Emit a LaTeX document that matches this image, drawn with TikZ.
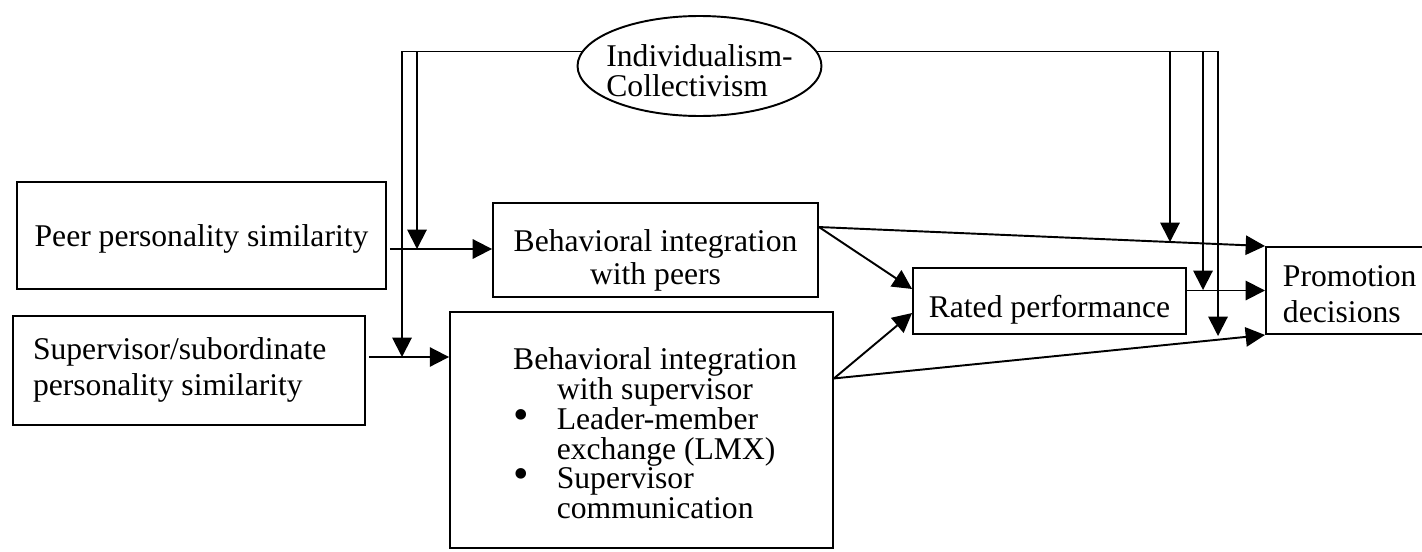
\documentclass[tikz,border=0pt]{standalone}
\usepackage{fontspec}
\setmainfont{Liberation Serif}
\usetikzlibrary{shapes.geometric,arrows.meta}

\newcommand{\bigbullet}{\scalebox{1.4}{\textbullet}}

\begin{document}
\begin{tikzpicture}[x=0.02cm,y=-0.02cm,line width=1.1pt,
  box/.style={draw, rectangle, inner sep=0pt, font=\fontsize{18}{19}\selectfont},
  arr/.style={-{Triangle[length=11pt,width=11pt]}}]

\useasboundingbox (0,0) rectangle (1422,551);

% Moderator
\node[draw, ellipse, minimum width=4.88cm, minimum height=2cm, inner sep=0pt, text height=17pt, text depth=17pt,
  font=\fontsize{18}{17}\selectfont] (ic) at (699.5,66)
  {\makebox[96pt][c]{\begin{tabular}[t]{@{}l@{}}Individualism-\\Collectivism\end{tabular}}};

% Similarity boxes
\node[box, minimum width=7.38cm, minimum height=2.14cm, text height=16pt, text depth=4pt] (peer) at (201.5,235.5) {Peer personality similarity};
\node[box, minimum width=7.04cm, minimum height=2.18cm, text height=14pt, text depth=27pt,
  font=\fontsize{18}{20.5}\selectfont] (supsub) at (189,370.5)
  {\makebox[6.24cm][l]{\begin{tabular}[t]{@{}l@{}}Supervisor/subordinate\\personality similarity\end{tabular}}};

% Integration boxes
\node[box, minimum width=6.5cm, minimum height=1.88cm, text height=19.4pt, text depth=18.2pt,
  font=\fontsize{18}{18.8}\selectfont] (peers) at (655.5,250)
  {\begin{tabular}[t]{@{}c@{}}Behavioral integration\\with peers\end{tabular}};
\node[box, minimum width=7.66cm, minimum height=4.72cm, text height=12.4pt, text depth=81.8pt,
  font=\fontsize{18}{15.7}\selectfont] (sup) at (641.5,430)
  {\hspace*{0.54cm}\begin{tabular}[t]{@{}l@{\hspace{16pt}}l@{}}
    \multicolumn{2}{@{}c@{}}{Behavioral integration}\\
    \multicolumn{2}{@{}c@{}}{with supervisor}\\
    \bigbullet & Leader-member\\
               & exchange (LMX)\\
    \bigbullet & Supervisor\\
               & communication
  \end{tabular}};

% Outcomes
\node[box, minimum width=5.46cm, minimum height=1.32cm, text height=23pt, text depth=4pt] (rated) at (1049.5,301) {Rated performance};
\node[box, anchor=west, inner xsep=0.34cm, minimum height=1.74cm, text height=18pt, text depth=23pt,
  font=\fontsize{18}{20.5}\selectfont] (promo) at (1265,290.5)
  {\makebox[2.82cm][l]{\begin{tabular}[t]{@{}l@{}}Promotion\\decisions\end{tabular}}};

% Points where the moderator meets the paths
\coordinate (m1) at (417,249);
\coordinate (m2) at (402,357);
\coordinate (m3) at (1170,242);
\coordinate (m4) at (1203,290);
\coordinate (m5) at (1218,336);

% Main paths
\draw[arr] ([xshift=0.06cm]peer.east |- m1) -- (peers.west |- m1);
\draw[arr] ([xshift=0.06cm]supsub.east |- m2) -- (sup.west |- m2);
\draw[arr] (peers.8) -- (rated.175);
\draw[arr] (sup.15) -- (rated.185);
\draw[arr] (peers.8) -- (promo.north west);
\draw[arr] (sup.15) -- (promo.south west);
\draw[arr] (rated.east |- promo.west) -- (promo.west);

% Moderating lines
\draw[arr] (ic.173) -| (m2);
\draw[arr] (m1 |- ic.173) -- (m1);
\draw[arr] (ic.7) -| (m5);
\draw[arr] (m3 |- ic.7) -- (m3);
\draw[arr] (m4 |- ic.7) -- (m4);

\end{tikzpicture}
\end{document}
